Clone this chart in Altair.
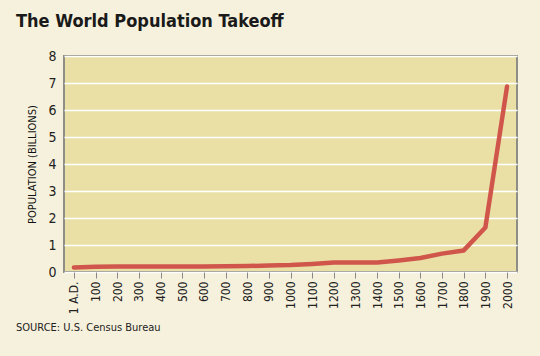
import altair as alt
import pandas as pd

years = ["1 A.D.", "100", "200", "300", "400", "500", "600", "700", "800", "900",
         "1000", "1100", "1200", "1300", "1400", "1500", "1600", "1700", "1800", "1900", "2000"]
population = [0.17, 0.19, 0.2, 0.2, 0.2, 0.2, 0.2, 0.21, 0.22, 0.24,
              0.26, 0.3, 0.35, 0.35, 0.35, 0.43, 0.52, 0.68, 0.8, 1.65, 6.87]

df = pd.DataFrame({"year": years, "pop": population})

FONT = "'Liberation Sans Narrow', 'DejaVu Sans Condensed', 'Open Sans', sans-serif"

line = alt.Chart(df).mark_line(color="#D0564C", strokeWidth=4.5, strokeCap="round", strokeJoin="round").encode(
    x=alt.X("year:N", sort=years, title=None,
            scale=alt.Scale(type="point", padding=0.46),
            axis=alt.Axis(labelAngle=-90, labelAlign="right", labelBaseline="middle",
                          labelFontSize=12, labelColor="#222", labelFont=FONT,
                          tickColor="#888", tickSize=6, tickWidth=1, domain=False,
                          labelPadding=3, grid=False)),
    y=alt.Y("pop:Q", title="POPULATION (BILLIONS)",
            scale=alt.Scale(domain=[0, 8], nice=False),
            axis=alt.Axis(values=list(range(9)), ticks=False, domain=False,
                          labelFontSize=14, labelColor="#222", labelFont=FONT, labelPadding=8,
                          gridColor="#FFFFFF", gridWidth=1.6, gridOpacity=1,
                          titleFont=FONT, titleFontSize=11, titleFontWeight="normal",
                          titleColor="#111", titlePadding=10)),
)

source = alt.Chart(pd.DataFrame({"t": ["SOURCE: U.S. Census Bureau"]})).mark_text(
    align="left", baseline="middle", font=FONT, fontSize=11, color="#222"
).encode(x=alt.value(-48), y=alt.value(272), text="t:N")

chart = alt.layer(line, source).properties(
    width=453, height=216,
    background="#F6F1DC",
    padding={"left": 64, "top": 56, "right": 23, "bottom": 84},
    autosize=alt.AutoSizeParams(type="none"),
    title=alt.TitleParams("The World Population Takeoff", anchor="start", frame="group", dx=-48, offset=18,
                          font=FONT, fontSize=18, fontWeight="bold", color="#1a1a1a"),
).configure_view(fill="#EAE0A6", stroke="#8E8E86", strokeWidth=2)

chart.save("out.html", embed_options={"renderer": "svg", "actions": False})
